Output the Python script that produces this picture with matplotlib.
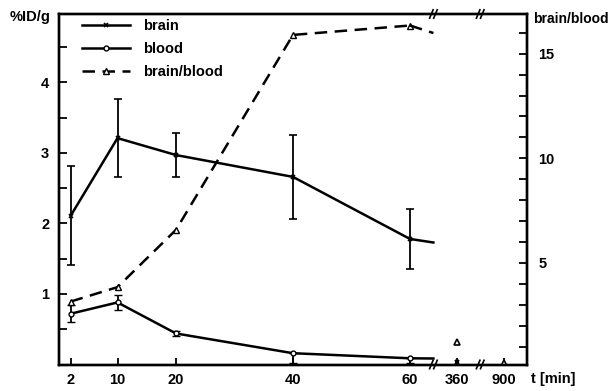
import numpy as np
import matplotlib
matplotlib.use("Agg")
import matplotlib.pyplot as plt
from matplotlib.scale import FuncScale
from matplotlib.transforms import blended_transform_factory
from matplotlib.lines import Line2D

plt.rcParams['font.family'] = ['Liberation Sans', 'DejaVu Sans']
plt.rcParams['font.weight'] = 'bold'

# ---- data ----
t_main = [2, 10, 20, 40, 60]
brain = [2.11, 3.21, 2.97, 2.66, 1.78]
brain_err = [0.70, 0.55, 0.31, 0.60, 0.42]
blood = [0.72, 0.88, 0.44, 0.16, 0.088]
blood_err_lo = [0.12, 0.11, 0.03, 0.14, 0.07]
blood_err_hi = [0.12, 0.11, 0.03, 0.0, 0.0]
ratio = [3.15, 3.84, 6.58, 15.9, 16.35]

t_cut = 64            # where the lines are cut at the axis break
brain_cut = 1.73
blood_cut = 0.085
ratio_cut = 15.99

t_late_brain = [360]
brain_late = [0.04]
t_late_ratio = [360, 900]
ratio_late = [1.23, 0.2]

xticks = [2, 10, 20, 40, 60, 360, 900]
xticklabels = ['2', '10', '20', '40', '60', '360', '900']

# broken time axis
knots_t = [0, 64, 360, 900, 1200]
knots_p = [0, 64, 68, 76, 80]
def fwd(t):
    return np.interp(t, knots_t, knots_p)
def inv(p):
    return np.interp(p, knots_p, knots_t)

fig = plt.figure(figsize=(6.11, 3.91), dpi=100)
ax = fig.add_axes([59/611, 1-364.5/391, 468/611, 350.5/391])
ax2 = ax.twinx()
ax.set_xscale(FuncScale(ax, (fwd, inv)))
ax.set_xlim(0, 1200)

lw = 1.8
dash = (0, (5, 3))
ax.errorbar(t_main, brain, yerr=brain_err, color='black', lw=lw, marker='x',
            ms=3, mew=1.2, capsize=3, elinewidth=1.3, capthick=1.3)
ax.plot([t_main[-1], t_cut], [brain[-1], brain_cut], color='black', lw=lw)
ax.plot(t_late_brain, brain_late, ls='none', marker='x', ms=3, mew=1.5, color='black')

ax.errorbar(t_main, blood, yerr=[blood_err_lo, blood_err_hi], color='black', lw=lw,
            marker='o', ms=3.5, mfc='white', mew=1.0, capsize=3, elinewidth=1.3,
            capthick=1.3)
ax.plot([t_main[-1], t_cut], [blood[-1], blood_cut], color='black', lw=lw)

ax2.plot(t_main, ratio, color='black', lw=lw, ls=dash, marker='^', ms=4,
         mfc='white', mew=1.0)
ax2.plot([t_main[-1], t_cut], [ratio[-1], ratio_cut], color='black', lw=lw, ls=dash)
ax2.plot(t_late_ratio, ratio_late, ls='none', marker='^', ms=4, mfc='white', mew=1.2, color='black')

ax.set_ylim(0, 4.97)
ax2.set_ylim(0.14, 16.9)
ax.set_yticks([1, 2, 3, 4])
ax.set_yticks([0.5, 1.5, 2.5, 3.5, 4.5], minor=True)
ax2.set_yticks([5, 10, 15])
ax2.set_yticks([1, 2, 3, 4, 6, 7, 8, 9, 11, 12, 13, 14, 16], minor=True)
ax.set_xticks(xticks)
ax.set_xticklabels(xticklabels)
ax.xaxis.set_minor_locator(matplotlib.ticker.NullLocator())

for a in (ax, ax2):
    for s in a.spines.values():
        s.set_linewidth(1.7)
ax.tick_params(axis='both', which='both', direction='in', width=1.3, length=6,
               labelsize=10.5, pad=7)
ax.tick_params(axis='x', length=5, pad=6)
ax2.tick_params(axis='y', which='both', direction='in', width=1.3, length=6,
                labelsize=10.5, pad=8)

# axis break marks
trans = blended_transform_factory(ax.transData, ax.transAxes)
for p in (64, 72):
    for yb in (0, 1):
        for dx in (-0.35, 0.35):
            x0 = inv(p + dx - 0.3)
            x1 = inv(p + dx + 0.3)
            ax.plot([x0, x1], [yb - 0.012, yb + 0.012], transform=trans,
                    color='black', lw=1.2, clip_on=False)

fig.text(10/611, 1-17/391, '%ID/g', fontsize=10.5, fontweight='bold', va='center', ha='left')
fig.text(609/611, 1-19/391, 'brain/blood', fontsize=10, fontweight='bold', va='center', ha='right')
fig.text(531/611, 1-379/391, 't [min]', fontsize=10.5, fontweight='bold', va='center', ha='left')

h1 = Line2D([], [], color='black', lw=lw, marker='x', ms=3, mew=1.2)
h2 = Line2D([], [], color='black', lw=lw, marker='o', ms=3.5, mfc='white', mew=1.0)
h3 = Line2D([], [], color='black', lw=lw, ls=dash, marker='^', ms=4, mfc='white', mew=1.0)
ax.legend([h1, h2, h3], ['brain', 'blood', 'brain/blood'], loc='upper left',
          bbox_to_anchor=(0.049, 0.985), frameon=False, borderpad=0,
          borderaxespad=0, handlelength=3.3, handletextpad=0.9,
          labelspacing=0.6, fontsize=10.5)

fig.savefig('out.png', dpi=100)
